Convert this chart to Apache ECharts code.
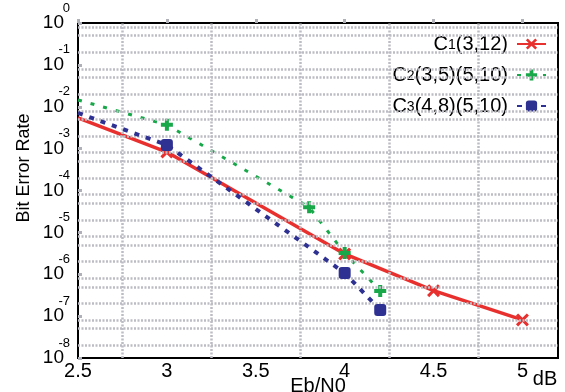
<!DOCTYPE html>
<html>
<head>
<meta charset="utf-8">
<script src="https://cdn.jsdelivr.net/npm/echarts@6/dist/echarts.min.js"></script>
<style>
  html, body { margin: 0; padding: 0; background: #fff; }
  #chart { width: 565px; height: 392px; }
</style>
</head>
<body>
<div id="chart"></div>
<script>
// 数据
const seriesNames = ['C1(3,12)', 'C2(3,5)(5,10)', 'C3(4,8)(5,10)'];
const c1X = [2.5, 3, 4, 4.5, 5];
const c1Y = [5.4e-3, 8.3e-4, 3.05e-6, 4.05e-7, 8.1e-8];
const c2X = [2.5, 3, 3.8, 4, 4.2];
const c2Y = [1.45e-2, 3.7e-3, 4.0e-5, 3.2e-6, 4.0e-7];
const c3X = [2.5, 3, 4, 4.2];
const c3Y = [7.1e-3, 1.22e-3, 1.07e-6, 1.4e-7];

// 网格线位置
const hGrid = [
  0.8, 0.5, 0.2, 8e-2, 5e-2, 2e-2, 8e-3, 5e-3, 2e-3, 8e-4, 5e-4, 2e-4,
  8e-5, 5e-5, 2e-5, 8e-6, 5e-6, 2e-6, 8e-7, 5e-7, 2e-7, 8e-8, 5e-8, 2e-8,
];
const vGrid = [2.75, 3.25, 3.75, 4.25, 4.75];

const FONT = 'Liberation Sans, Arial, sans-serif';
const X_MARK = 'path://M2,0L6,4L10,0L12,2L8,6L12,10L10,12L6,8L2,12L0,10L4,6L0,2Z';
const PLUS = 'path://M4,0H8V4H12V8H8V12H4V8H0V4H4Z';

// 第一个点不画标记（在边框上）
function toData(xs, ys) {
  return xs.map((x, i) => (i === 0 ? { value: [x, ys[i]], symbol: 'none' } : [x, ys[i]]));
}

const gridLine = {
  color: '#bcbcc4',
  width: 2.5,
  type: [2, 1.5],
};

const chart = echarts.init(document.getElementById('chart'));
chart.setOption({
  animation: false,
  textStyle: { fontFamily: FONT },
  grid: {
    show: true,
    left: 78,
    right: 7,
    top: 23,
    bottom: 34,
    borderColor: '#000', // 边框
    borderWidth: 2,
    containLabel: false,
    outerBoundsMode: 'none',
  },
  legend: {
    orient: 'vertical',
    align: 'right',
    right: 13,
    top: 29,
    itemWidth: 29,
    itemHeight: 14,
    itemGap: 11,
    data: seriesNames,
    formatter: (name) => name.replace(/^C(\d)(.*)$/, '{n|C}{s|$1}{n|$2}'),
    textStyle: {
      color: '#000',
      fontSize: 20,
      padding: [0, 4, 0, 0],
      rich: {
        n: { fontSize: 20, lineHeight: 22, fontFamily: FONT, color: '#000' },
        s: { fontSize: 14, fontFamily: FONT, color: '#000', verticalAlign: 'middle', padding: [3, 0, 0, 0] },
      },
    },
  },
  xAxis: {
    type: 'value',
    min: 2.5,
    max: 5.2,
    interval: 0.5,
    name: 'Eb/N0',
    nameLocation: 'middle',
    nameGap: 28,
    nameMoveOverlap: false,
    nameTextStyle: { fontSize: 20, color: '#000', verticalAlign: 'middle' },
    axisLine: { show: false },
    axisTick: { show: true, inside: true, length: 4, lineStyle: { color: '#b0b0b8', width: 3 } },
    axisLabel: { color: '#000', fontSize: 20, margin: 3, showMaxLabel: false, showMinLabel: true },
    splitLine: { show: false },
  },
  yAxis: [
    {
      type: 'log',
      logBase: 10,
      min: 1e-8,
      max: 1,
      splitNumber: 8,
      position: 'left',
      axisLine: { show: false },
      splitLine: { show: false },
      axisTick: { show: true, inside: true, length: 4, lineStyle: { color: '#b0b0b8', width: 3 } },
      axisLabel: { color: '#000', fontSize: 19, margin: 14, formatter: () => '10' },
    },
    {
      // 指数刻度（以10为底的幂）
      type: 'value',
      min: -8,
      max: 0,
      interval: 1,
      position: 'left',
      offset: 0,
      axisLine: { show: false },
      splitLine: { show: false },
      axisTick: { show: false },
      axisLabel: {
        color: '#000',
        fontSize: 13,
        lineHeight: 30,
        verticalAlign: 'bottom',
        margin: 8,
        formatter: (v) => String(v),
      },
    },
  ],
  graphic: [
    {
      type: 'text',
      x: 24,
      y: 168,
      rotation: Math.PI / 2,
      style: { text: 'Bit Error Rate', fontSize: 18, fontFamily: FONT, fill: '#000', align: 'center', verticalAlign: 'middle' },
    },
    {
      type: 'text',
      x: 545,
      y: 379,
      style: { text: 'dB', fontSize: 20, fontFamily: FONT, fill: '#000', align: 'center', verticalAlign: 'middle' },
    },
  ],
  series: [
    {
      // 网格线
      type: 'line',
      data: [],
      silent: true,
      z: 1,
      markLine: {
        silent: true,
        symbol: 'none',
        precision: 12,
        label: { show: false },
        lineStyle: gridLine,
        data: hGrid.map((v) => ({ yAxis: v })).concat(vGrid.map((v) => ({ xAxis: v }))),
      },
    },
    {
      name: seriesNames[0],
      type: 'line',
      z: 3,
      data: toData(c1X, c1Y),
      symbol: X_MARK,
      symbolSize: 13,
      itemStyle: { color: '#e8302e' },
      lineStyle: { color: '#e8302e', width: 3.5 },
    },
    {
      name: seriesNames[1],
      type: 'line',
      z: 4,
      data: toData(c2X, c2Y),
      symbol: PLUS,
      symbolSize: 12,
      itemStyle: { color: '#18a84a' },
      lineStyle: { color: '#18a84a', width: 3, type: [4, 9] },
    },
    {
      name: seriesNames[2],
      type: 'line',
      z: 5,
      data: toData(c3X, c3Y),
      symbol: 'roundRect',
      symbolSize: 12,
      itemStyle: { color: '#2e3192' },
      lineStyle: { color: '#2e3192', width: 4, type: [5, 7] },
    },
  ],
});
</script>
</body>
</html>
